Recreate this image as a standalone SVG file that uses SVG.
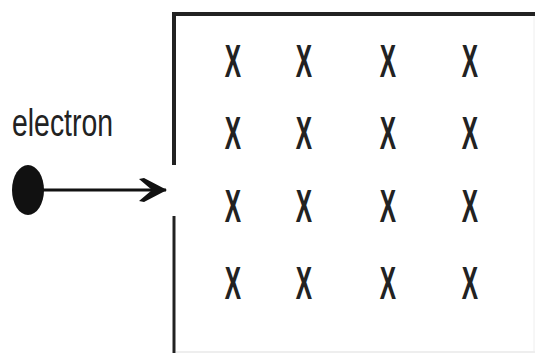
<svg xmlns="http://www.w3.org/2000/svg" width="535" height="353" viewBox="0 0 535 353">
<style>
.x{font-family:"Liberation Sans",Arial,sans-serif;font-size:47px;font-weight:bold;fill:#222;text-anchor:middle}
.lbl{font-family:"Liberation Sans",Arial,sans-serif;font-size:39px;fill:#222}
.edge{stroke:#222;fill:none}
</style>
<defs>
<marker id="ah" viewBox="0 0 28 24" refX="27" refY="12" markerWidth="28" markerHeight="24" markerUnits="userSpaceOnUse" orient="auto">
<path d="M0,1 L5,0 L28,12 L5,24 L0,23 L13,12 Z" fill="#111"/>
</marker>
</defs>
<rect width="535" height="353" fill="#fff"/>
<g id="field">
<path class="edge" stroke-width="4" d="M174,165 L174,14 L535,14"/>
<path class="edge" stroke-width="3" d="M174,216 L174,353"/>
<path stroke="#ddd" stroke-width="1" fill="none" d="M176,352 L535,352"/>
<path stroke="#eee" stroke-width="1" fill="none" d="M534,16 L534,352"/>
<g transform="translate(233,77) scale(0.52,1)"><text class="x">X</text></g>
<g transform="translate(304,77) scale(0.52,1)"><text class="x">X</text></g>
<g transform="translate(388,77) scale(0.52,1)"><text class="x">X</text></g>
<g transform="translate(470,77) scale(0.52,1)"><text class="x">X</text></g>
<g transform="translate(233,149) scale(0.52,1)"><text class="x">X</text></g>
<g transform="translate(304,149) scale(0.52,1)"><text class="x">X</text></g>
<g transform="translate(388,149) scale(0.52,1)"><text class="x">X</text></g>
<g transform="translate(470,149) scale(0.52,1)"><text class="x">X</text></g>
<g transform="translate(233,222) scale(0.52,1)"><text class="x">X</text></g>
<g transform="translate(304,222) scale(0.52,1)"><text class="x">X</text></g>
<g transform="translate(388,222) scale(0.52,1)"><text class="x">X</text></g>
<g transform="translate(470,222) scale(0.52,1)"><text class="x">X</text></g>
<g transform="translate(233,299) scale(0.52,1)"><text class="x">X</text></g>
<g transform="translate(304,299) scale(0.52,1)"><text class="x">X</text></g>
<g transform="translate(388,299) scale(0.52,1)"><text class="x">X</text></g>
<g transform="translate(470,299) scale(0.52,1)"><text class="x">X</text></g>
</g>
<g id="electron">
<ellipse cx="28" cy="190" rx="16" ry="25" fill="#111"/>
<text class="lbl" x="12" y="136" textLength="101" lengthAdjust="spacingAndGlyphs">electron</text>
</g>
<g id="connectors">
<line x1="42" y1="190" x2="166" y2="190" stroke="#111" stroke-width="3" marker-end="url(#ah)"/>
</g>
</svg>
